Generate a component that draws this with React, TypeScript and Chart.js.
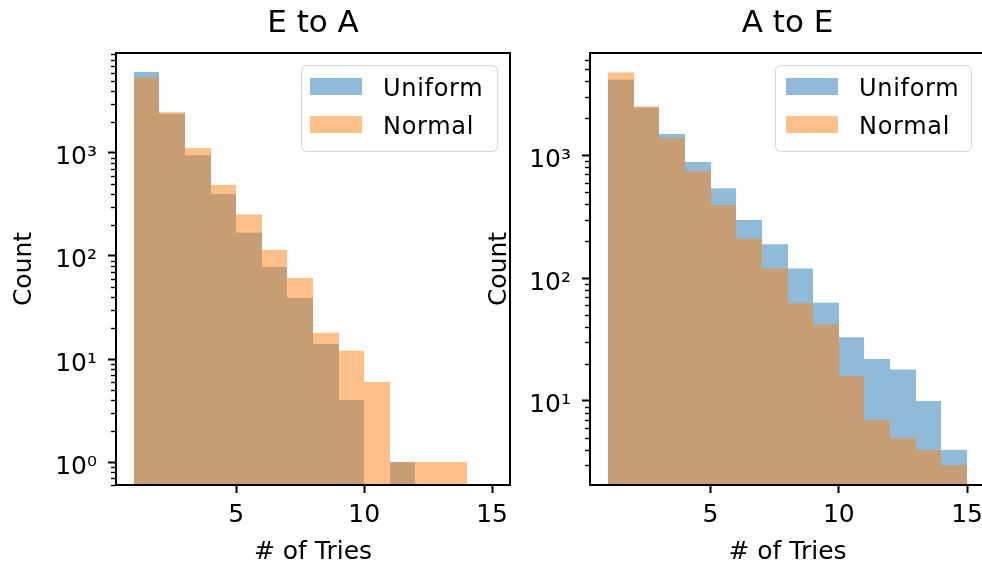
import React, { useEffect, useRef } from 'react';
import { Chart, registerables } from 'chart.js';

Chart.register(...registerables);

// ---- data ----
const binCenters = [1.5, 2.5, 3.5, 4.5, 5.5, 6.5, 7.5, 8.5, 9.5, 10.5, 11.5, 12.5, 13.5, 14.5];
const eToAUniform = [6100, 2390, 950, 398, 168, 78, 39, 14, 4, 0, 1, 0, 0, 0];
const eToANormal = [5370, 2480, 1117, 489, 252, 114, 61, 18, 12, 6, 1, 1, 1, 0];
const aToEUniform = [4110, 2450, 1489, 883, 540, 297, 189, 120, 63, 33, 22, 18, 10, 4];
const aToENormal = [4710, 2500, 1381, 741, 393, 209, 120, 62, 42, 16, 7, 5, 4, 3];
const xTickValues = [5, 10, 15];
const yTickValues = [1, 10, 100, 1000];
const yTickLabels = ['10⁰', '10¹', '10²', '10³'];
const seriesNames = ['Uniform', 'Normal'];
const panelTitles = ['E to A', 'A to E'];

const FONT = 'DejaVu Sans';
const BLUE = 'rgba(31,119,180,0.5)';
const ORANGE = 'rgba(255,127,14,0.5)';
const LABEL_SIZE = 25;
const TITLE_SIZE = 31;

// Snap bar edges to whole pixels so adjacent translucent bars do not show seams.
const snapBarsPlugin = {
  id: 'snapBars',
  afterDatasetsUpdate(chart: any) {
    chart.data.datasets.forEach((_: any, i: number) => {
      const meta = chart.getDatasetMeta(i);
      meta.data.forEach((el: any) => {
        if (!isFinite(el.x) || !isFinite(el.width)) return;
        const l = Math.round(el.x - el.width / 2);
        const r = Math.round(el.x + el.width / 2);
        el.x = (l + r) / 2;
        el.width = r - l;
      });
    });
  },
};

const framePlugin = {
  id: 'frame',
  afterDraw(chart: any) {
    const { ctx, chartArea: a, scales } = chart;
    const y = scales.y;
    ctx.save();
    ctx.strokeStyle = '#000';
    ctx.lineWidth = 1.4;
    const e0 = Math.floor(Math.log10(y.min));
    const e1 = Math.ceil(Math.log10(y.max));
    for (let e = e0; e <= e1; e++) {
      for (let k = 2; k <= 9; k++) {
        const v = k * Math.pow(10, e);
        if (v < y.min || v > y.max) continue;
        const p = Math.round(y.getPixelForValue(v)) + 0.5;
        ctx.beginPath();
        ctx.moveTo(a.left - 5, p);
        ctx.lineTo(a.left, p);
        ctx.stroke();
      }
    }
    ctx.lineWidth = 2;
    ctx.strokeRect(a.left, a.top, a.right - a.left, a.bottom - a.top);
    ctx.restore();
  },
};

type Panel = {
  title: string;
  uniform: number[];
  normal: number[];
  yMin: number;
  yMax: number;
  canvasLeft: number;
  canvasWidth: number;
  padRight: number;
  yAxisWidth: number;
  yTitlePad: number;
};

const panels: Panel[] = [
  {
    title: panelTitles[0],
    uniform: eToAUniform,
    normal: eToANormal,
    yMin: 0.647,
    yMax: 9300,
    canvasLeft: 0,
    canvasWidth: 540,
    padRight: 30,
    yAxisWidth: 116,
    yTitlePad: 9,
  },
  {
    title: panelTitles[1],
    uniform: aToEUniform,
    normal: aToENormal,
    yMin: 2.07,
    yMax: 6800,
    canvasLeft: 480,
    canvasWidth: 520,
    padRight: 15,
    yAxisWidth: 110,
    yTitlePad: 4,
  },
];

function makeChart(canvas: HTMLCanvasElement, p: Panel) {
  const font = { family: FONT, size: LABEL_SIZE, weight: 'normal' as const };
  const toPts = (vals: number[]) =>
    binCenters.map((x, i) => ({ x, y: vals[i] > 0 ? vals[i] : null }));
  const barCommon = {
    borderWidth: 0,
    grouped: false,
    barPercentage: 1,
    categoryPercentage: 1,
    inflateAmount: 0,
  };
  return new Chart(canvas, {
    type: 'bar',
    data: {
      datasets: [
        {
          label: seriesNames[0],
          data: toPts(p.uniform) as any,
          backgroundColor: BLUE,
          order: 1,
          ...barCommon,
        } as any,
        {
          label: seriesNames[1],
          data: toPts(p.normal) as any,
          backgroundColor: ORANGE,
          order: 0,
          ...barCommon,
        } as any,
      ],
    },
    options: {
      animation: false,
      responsive: false,
      maintainAspectRatio: false,
      devicePixelRatio: 1,
      layout: { padding: { left: 0, right: p.padRight, top: 0, bottom: 0 } },
      plugins: {
        legend: { display: false },
        tooltip: { enabled: false },
        title: {
          display: true,
          text: p.title,
          fullSize: false,
          color: '#000',
          font: { family: FONT, size: TITLE_SIZE, weight: 'normal' },
          padding: { top: 5.4, bottom: 53 - 5.4 - TITLE_SIZE * 1.2 },
        },
      },
      scales: {
        x: {
          type: 'linear',
          min: 0.3,
          max: 15.7,
          offset: false,
          grid: {
            display: true,
            offset: false,
            drawOnChartArea: false,
            drawTicks: true,
            tickLength: 8,
            tickWidth: 2,
            tickColor: '#000',
          },
          border: { display: false },
          ticks: {
            font,
            color: '#000',
            padding: 7,
            maxRotation: 0,
            autoSkip: false,
            callback: (v: any) => String(v),
          },
          afterBuildTicks: (s: any) => {
            s.ticks = xTickValues.map((v) => ({ value: v }));
          },
          afterFit: (s: any) => {
            s.height = 79;
          },
          title: {
            display: true,
            text: '# of Tries',
            color: '#000',
            font,
            padding: { top: 0, bottom: -3 },
          },
        },
        y: {
          type: 'logarithmic',
          min: p.yMin,
          max: p.yMax,
          grid: {
            display: true,
            drawOnChartArea: false,
            drawTicks: true,
            tickLength: 8,
            tickWidth: 2,
            tickColor: '#000',
          },
          border: { display: false },
          ticks: {
            font,
            color: '#000',
            padding: 11,
            labelOffset: 5,
            autoSkip: false,
            callback: (v: any) => {
              const i = yTickValues.indexOf(Number(v));
              return i >= 0 ? yTickLabels[i] : '';
            },
          },
          afterBuildTicks: (s: any) => {
            s.ticks = yTickValues
              .filter((v) => v >= p.yMin && v <= p.yMax)
              .map((v) => ({ value: v, major: true }));
          },
          afterFit: (s: any) => {
            s.width = p.yAxisWidth;
          },
          title: {
            display: true,
            text: 'Count',
            color: '#000',
            font,
            padding: { top: p.yTitlePad, bottom: 0 },
          },
        },
      },
    } as any,
    plugins: [snapBarsPlugin, framePlugin],
  });
}

function Legend({ left, patchLeft, textLeft }: { left: number; patchLeft: number; textLeft: number }) {
  const rows = [
    { name: seriesNames[0], color: BLUE, top: 78 },
    { name: seriesNames[1], color: ORANGE, top: 116 },
  ];
  return (
    <>
      <div
        style={{
          position: 'absolute',
          left,
          top: 65,
          width: 197,
          height: 87,
          boxSizing: 'border-box',
          border: '1.5px solid rgba(204,204,204,0.8)',
          borderRadius: 6,
          background: 'rgba(255,255,255,0.8)',
        }}
      />
      {rows.map((r) => (
        <React.Fragment key={r.name}>
          <div
            style={{
              position: 'absolute',
              left: patchLeft,
              top: r.top,
              width: 52,
              height: 17,
              background: r.color,
            }}
          />
          <div
            style={{
              position: 'absolute',
              left: textLeft,
              top: r.top - 4.5,
              height: 29,
              lineHeight: '29px',
              fontFamily: FONT,
              fontSize: 24,
              letterSpacing: '0.7px',
              color: '#000',
              whiteSpace: 'nowrap',
            }}
          >
            {r.name}
          </div>
        </React.Fragment>
      ))}
    </>
  );
}

export default function App() {
  const ref0 = useRef<HTMLCanvasElement>(null);
  const ref1 = useRef<HTMLCanvasElement>(null);

  useEffect(() => {
    const charts: Chart[] = [];
    if (ref0.current) charts.push(makeChart(ref0.current, panels[0]));
    if (ref1.current) charts.push(makeChart(ref1.current, panels[1]));
    return () => charts.forEach((c) => c.destroy());
  }, []);

  return (
    <div
      style={{
        position: 'fixed',
        left: 0,
        top: 0,
        width: 982,
        height: 564,
        overflow: 'hidden',
        background: '#fff',
      }}
    >
      <canvas
        ref={ref0}
        width={panels[0].canvasWidth}
        height={564}
        style={{ position: 'absolute', left: panels[0].canvasLeft, top: 0, width: panels[0].canvasWidth, height: 564 }}
      />
      <canvas
        ref={ref1}
        width={panels[1].canvasWidth}
        height={564}
        style={{ position: 'absolute', left: panels[1].canvasLeft, top: 0, width: panels[1].canvasWidth, height: 564 }}
      />
      <Legend left={301} patchLeft={310} textLeft={383} />
      <Legend left={775} patchLeft={786} textLeft={859} />
    </div>
  );
}
